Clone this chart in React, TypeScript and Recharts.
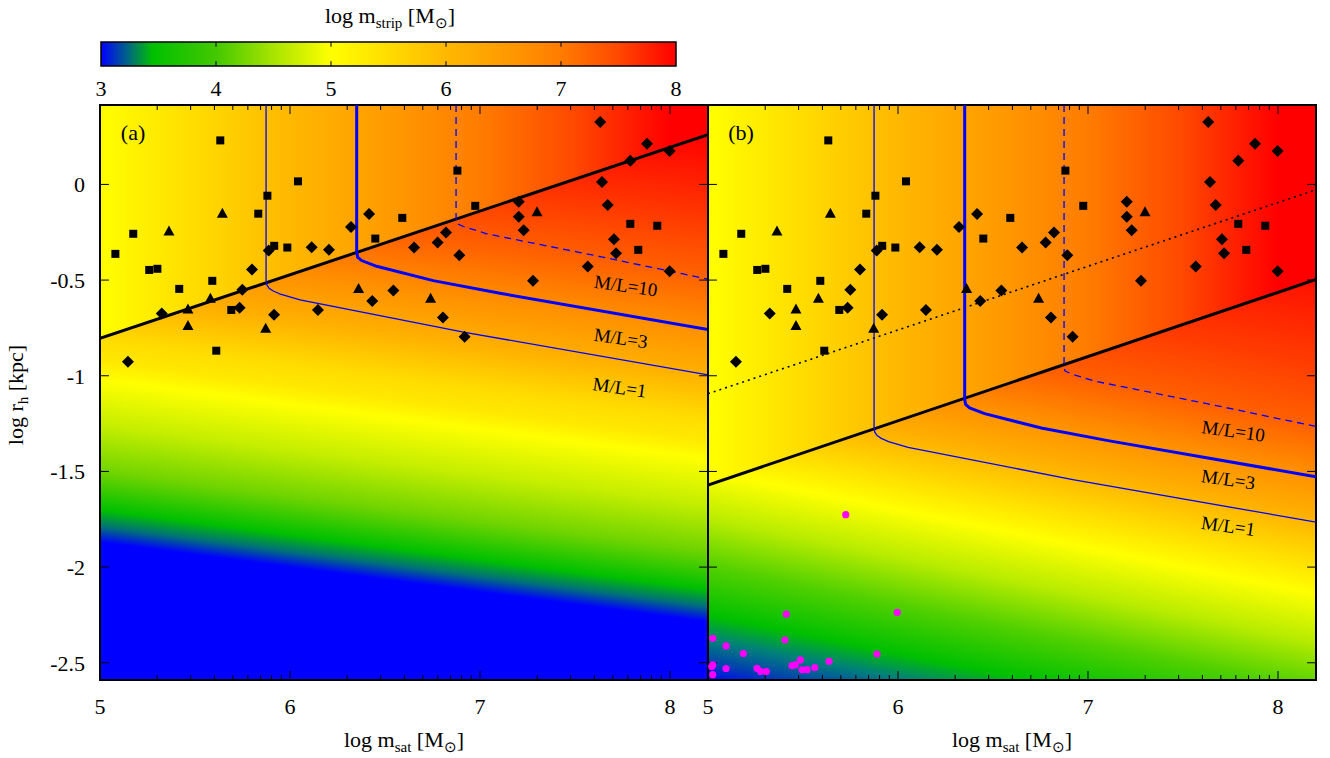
import React from "react";
import {
  ComposedChart,
  XAxis,
  YAxis,
  Line,
  Area,
  Scatter,
  ReferenceArea,
  ReferenceLine,
  ReferenceDot,
} from "recharts";

const FONT = '"Liberation Serif", "Times New Roman", serif';

const X_DOMAIN: [number, number] = [5, 8.2];
const Y_DOMAIN: [number, number] = [-2.59, 0.415];
const X_TICKS = [5, 6, 7, 8];
const Y_TICKS = [0, -0.5, -1, -1.5, -2, -2.5];
const CBAR_TICKS = [3, 4, 5, 6, 7, 8];

// colour scale: log m_strip -> colour
const PALETTE: [number, string][] = [
  [3, "#0000ff"],
  [3.22, "#00608a"],
  [3.45, "#00c000"],
  [4, "#44c800"],
  [4.5, "#a8e400"],
  [5, "#ffff00"],
  [5.5, "#ffdc00"],
  [6, "#ffb800"],
  [6.5, "#ff9c00"],
  [7, "#ff7c00"],
  [7.5, "#ff4800"],
  [8, "#ff0000"],
];

// colour below the tidal line, keyed by where the contour crosses x = 5
const SLOPE_A = -0.13;
const LOWER_A: [number, string][] = [
  [-1.87, "#0000ff"],
  [-1.79, "#00707a"],
  [-1.7, "#00c000"],
  [-1.5, "#70d400"],
  [-1.26, "#c4ee00"],
  [-1.02, "#ffff00"],
  [-0.92, "#ffe800"],
  [-0.81, "#ffdc00"],
  [-0.58, "#ffb000"],
  [-0.34, "#ff9000"],
  [-0.08, "#ff6400"],
  [0.3, "#ff3000"],
  [0.68, "#ff0000"],
];
const SLOPE_B = -0.2;
const LOWER_B: [number, string][] = [
  [-2.6, "#0000ff"],
  [-2.5, "#0040b0"],
  [-2.38, "#00807a"],
  [-2.25, "#00c000"],
  [-2.0, "#50d000"],
  [-1.75, "#b8ec00"],
  [-1.5, "#ffff00"],
  [-1.3, "#ffd800"],
  [-1.1, "#ffb000"],
  [-0.88, "#ff9000"],
  [-0.62, "#ff6000"],
  [-0.3, "#ff3c00"],
  [0.14, "#ff1000"],
];

// observed satellites (same in both panels)
const SQUARES = [
  { x: 5.633, y: 0.23 }, { x: 6.042, y: 0.016 }, { x: 5.881, y: -0.059 },
  { x: 5.833, y: -0.153 }, { x: 5.175, y: -0.258 }, { x: 5.081, y: -0.363 },
  { x: 5.917, y: -0.321 }, { x: 5.986, y: -0.33 }, { x: 5.259, y: -0.447 },
  { x: 5.302, y: -0.441 }, { x: 5.591, y: -0.504 }, { x: 5.417, y: -0.546 },
  { x: 5.691, y: -0.656 }, { x: 5.612, y: -0.869 }, { x: 6.881, y: 0.072 },
  { x: 6.975, y: -0.112 }, { x: 6.591, y: -0.175 }, { x: 6.449, y: -0.283 },
  { x: 7.791, y: -0.206 }, { x: 7.933, y: -0.216 }, { x: 7.833, y: -0.342 },
];
const TRIANGLES = [
  { x: 5.644, y: -0.153 }, { x: 5.363, y: -0.246 }, { x: 5.581, y: -0.598 },
  { x: 5.463, y: -0.654 }, { x: 5.463, y: -0.74 }, { x: 5.872, y: -0.754 },
  { x: 6.361, y: -0.546 }, { x: 6.74, y: -0.598 }, { x: 7.3, y: -0.145 },
];
const DIAMONDS = [
  { x: 5.888, y: -0.346 }, { x: 5.8, y: -0.445 }, { x: 5.749, y: -0.55 },
  { x: 5.325, y: -0.674 }, { x: 5.735, y: -0.644 }, { x: 5.916, y: -0.681 },
  { x: 5.147, y: -0.927 }, { x: 6.416, y: -0.155 }, { x: 6.321, y: -0.223 },
  { x: 6.114, y: -0.328 }, { x: 6.205, y: -0.342 }, { x: 6.653, y: -0.33 },
  { x: 6.777, y: -0.304 }, { x: 6.821, y: -0.251 }, { x: 6.891, y: -0.37 },
  { x: 6.544, y: -0.555 }, { x: 6.433, y: -0.609 }, { x: 6.147, y: -0.657 },
  { x: 6.805, y: -0.696 }, { x: 6.919, y: -0.796 }, { x: 7.633, y: 0.326 },
  { x: 7.879, y: 0.213 }, { x: 7.998, y: 0.175 }, { x: 7.791, y: 0.124 },
  { x: 7.642, y: 0.012 }, { x: 7.672, y: -0.108 }, { x: 7.204, y: -0.091 },
  { x: 7.204, y: -0.169 }, { x: 7.23, y: -0.239 }, { x: 7.705, y: -0.286 },
  { x: 7.716, y: -0.36 }, { x: 7.567, y: -0.429 }, { x: 7.998, y: -0.454 },
  { x: 7.279, y: -0.504 },
];
const MAGENTA = [
  { x: 5.725, y: -1.726 }, { x: 5.996, y: -2.237 }, { x: 5.412, y: -2.246 },
  { x: 5.405, y: -2.381 }, { x: 5.025, y: -2.372 }, { x: 5.095, y: -2.412 },
  { x: 5.186, y: -2.452 }, { x: 5.889, y: -2.454 }, { x: 5.637, y: -2.492 },
  { x: 5.486, y: -2.485 }, { x: 5.442, y: -2.515 }, { x: 5.459, y: -2.511 },
  { x: 5.495, y: -2.537 }, { x: 5.521, y: -2.536 }, { x: 5.562, y: -2.525 },
  { x: 5.258, y: -2.529 }, { x: 5.277, y: -2.545 }, { x: 5.307, y: -2.546 },
  { x: 5.095, y: -2.53 }, { x: 5.025, y: -2.511 }, { x: 5.025, y: -2.562 },
  { x: 5.02, y: -2.52 },
];

// panel (a)
const TIDAL_A = [{ x: 5, y: -0.805 }, { x: 8.2, y: 0.26 }];
const ML1_A = [
  { x: 5.874, y: 0.415 }, { x: 5.874, y: -0.5 }, { x: 5.878, y: -0.525 },
  { x: 5.89, y: -0.543 }, { x: 5.912, y: -0.557 }, { x: 5.95, y: -0.574 },
  { x: 6.053, y: -0.604 }, { x: 6.92, y: -0.773 }, { x: 8.2, y: -0.995 },
];
const ML3_A = [
  { x: 6.351, y: 0.415 }, { x: 6.351, y: -0.354 }, { x: 6.356, y: -0.38 },
  { x: 6.377, y: -0.398 }, { x: 6.456, y: -0.428 }, { x: 6.754, y: -0.503 },
  { x: 7.105, y: -0.569 }, { x: 8.2, y: -0.758 },
];
const ML10_A = [
  { x: 6.874, y: 0.415 }, { x: 6.874, y: -0.19 }, { x: 6.88, y: -0.205 },
  { x: 6.912, y: -0.22 }, { x: 7.035, y: -0.258 }, { x: 7.632, y: -0.377 },
  { x: 8.2, y: -0.495 },
];
const LABELS_A = [
  { text: "M/L=10", x: 7.768, y: -0.529 },
  { text: "M/L=3", x: 7.741, y: -0.803 },
  { text: "M/L=1", x: 7.735, y: -1.061 },
];

// panel (b)
const TIDAL_B = [{ x: 5, y: -1.571 }, { x: 8.2, y: -0.497 }];
const DOTTED_B = [{ x: 5, y: -1.094 }, { x: 8.2, y: -0.028 }];
const ML1_B = [
  { x: 5.874, y: 0.415 }, { x: 5.874, y: -1.27 }, { x: 5.878, y: -1.295 },
  { x: 5.89, y: -1.313 }, { x: 5.912, y: -1.327 }, { x: 5.95, y: -1.344 },
  { x: 6.053, y: -1.374 }, { x: 6.92, y: -1.543 }, { x: 8.2, y: -1.765 },
];
const ML3_B = [
  { x: 6.351, y: 0.415 }, { x: 6.351, y: -1.124 }, { x: 6.356, y: -1.15 },
  { x: 6.377, y: -1.168 }, { x: 6.456, y: -1.198 }, { x: 6.754, y: -1.273 },
  { x: 7.105, y: -1.339 }, { x: 8.2, y: -1.528 },
];
const ML10_B = [
  { x: 6.874, y: 0.415 }, { x: 6.874, y: -0.96 }, { x: 6.88, y: -0.975 },
  { x: 6.912, y: -0.99 }, { x: 7.035, y: -1.028 }, { x: 7.632, y: -1.147 },
  { x: 8.2, y: -1.265 },
];
const LABELS_B = [
  { text: "M/L=10", x: 7.765, y: -1.288 },
  { text: "M/L=3", x: 7.738, y: -1.541 },
  { text: "M/L=1", x: 7.738, y: -1.785 },
];

const CBAR_ENDS = [{ x: 3, y: 0 }, { x: 8, y: 1 }];
const LABEL_ANGLE = 8;

// gradient vector (objectBoundingBox units of the region under the tidal line)
function lowerGrad(slope: number, stops: [number, string][], yTop: number) {
  const W = X_DOMAIN[1] - X_DOMAIN[0];
  const H = yTop - Y_DOMAIN[0];
  const eMin = stops[0][0];
  const eMax = stops[stops.length - 1][0];
  const gu = -slope * W;
  const gv = -H;
  const v1 = (yTop - eMin) / H;
  const k = (eMax - eMin) / (gu * gu + gv * gv);
  return { x1: 0, y1: v1, x2: gu * k, y2: v1 + gv * k, span: eMax - eMin, eMin };
}

function LowerGradient({ id, slope, stops, yTop }: { id: string; slope: number; stops: [number, string][]; yTop: number }) {
  const g = lowerGrad(slope, stops, yTop);
  return (
    <linearGradient id={id} x1={g.x1} y1={g.y1} x2={g.x2} y2={g.y2}>
      {stops.map(([e, c]) => (
        <stop key={e} offset={(e - g.eMin) / g.span} stopColor={c} />
      ))}
    </linearGradient>
  );
}

function Gradients() {
  return (
    <svg width={0} height={0} style={{ position: "absolute" }}>
      <defs>
        <linearGradient id="cbar" x1={0} y1={0} x2={1} y2={0}>
          {PALETTE.map(([v, c]) => (
            <stop key={v} offset={(v - 3) / 5} stopColor={c} />
          ))}
        </linearGradient>
        <linearGradient id="upper" x1={0} y1={0} x2={1} y2={0}>
          {PALETTE.filter(([v]) => v >= 5).map(([v, c]) => (
            <stop key={v} offset={(v - 5) / (X_DOMAIN[1] - 5)} stopColor={c} />
          ))}
        </linearGradient>
        <LowerGradient id="lowerA" slope={SLOPE_A} stops={LOWER_A} yTop={TIDAL_A[1].y} />
        <LowerGradient id="lowerB" slope={SLOPE_B} stops={LOWER_B} yTop={TIDAL_B[1].y} />
      </defs>
    </svg>
  );
}

const Square = (p: any) => (
  <rect x={p.cx - 4} y={p.cy - 4} width={8} height={8} fill="#000" />
);
const Diamond = (p: any) => (
  <path d={`M${p.cx},${p.cy - 6}L${p.cx + 6},${p.cy}L${p.cx},${p.cy + 6}L${p.cx - 6},${p.cy}Z`} fill="#000" />
);
const Triangle = (p: any) => (
  <path d={`M${p.cx},${p.cy - 6}L${p.cx + 5.5},${p.cy + 4}L${p.cx - 5.5},${p.cy + 4}Z`} fill="#000" />
);
const Dot = (p: any) => <circle cx={p.cx} cy={p.cy} r={3.6} fill="#ff00ff" />;

function axisTicks() {
  const [y0, y1] = Y_DOMAIN;
  const [x0, x1] = X_DOMAIN;
  const minor: number[] = [];
  [5, 6, 7].forEach((d) => {
    for (let k = 2; k <= 9; k++) minor.push(d + Math.log10(k));
  });
  const out: React.ReactNode[] = [];
  const seg = (key: string, a: any, b: any) =>
    out.push(<ReferenceLine key={key} segment={[a, b]} stroke="#000" strokeWidth={1} ifOverflow="visible" />);
  X_TICKS.forEach((x) => {
    seg(`xb${x}`, { x, y: y0 }, { x, y: y0 + 0.047 });
    seg(`xt${x}`, { x, y: y1 }, { x, y: y1 - 0.047 });
  });
  minor.forEach((x) => {
    seg(`mb${x}`, { x, y: y0 }, { x, y: y0 + 0.026 });
    seg(`mt${x}`, { x, y: y1 }, { x, y: y1 - 0.026 });
  });
  Y_TICKS.forEach((y) => {
    seg(`yl${y}`, { x: x0, y }, { x: x0 + 0.047, y });
    seg(`yr${y}`, { x: x1, y }, { x: x1 - 0.047, y });
  });
  return out;
}

type Pt = { x: number; y: number };
type PanelProps = {
  tag: string;
  tidal: Pt[];
  lowerId: string;
  dotted?: Pt[];
  ml1: Pt[];
  ml3: Pt[];
  ml10: Pt[];
  labels: { text: string; x: number; y: number }[];
  magenta?: Pt[];
  showY: boolean;
};

function Panel(props: PanelProps) {
  const { tag, tidal, lowerId, dotted, ml1, ml3, ml10, labels, magenta, showY } = props;
  const tickStyle = { fontSize: 22, fill: "#000", fontFamily: FONT };
  return (
    <ComposedChart
      width={showY ? 720 : 630}
      height={758}
      data={tidal}
      margin={showY ? { top: 105, right: 12, bottom: 48, left: 40 } : { top: 105, right: 14, bottom: 48, left: 8 }}
    >
      <XAxis
        dataKey="x"
        type="number"
        domain={X_DOMAIN}
        ticks={X_TICKS}
        interval={0}
        allowDataOverflow
        tickLine={false}
        axisLine={false}
        tick={tickStyle}
        tickMargin={12}
      />
      <YAxis
        dataKey="y"
        type="number"
        domain={Y_DOMAIN}
        ticks={Y_TICKS}
        interval={0}
        allowDataOverflow
        hide={!showY}
        width={60}
        tickLine={false}
        axisLine={false}
        tick={tickStyle}
        tickMargin={9}
      />
      <Area dataKey="y" type="linear" baseValue="dataMin" fill={`url(#${lowerId})`} fillOpacity={1} stroke="none" dot={false} activeDot={false} isAnimationActive={false} />
      <Area dataKey="y" type="linear" baseValue="dataMax" fill="url(#upper)" fillOpacity={1} stroke="none" dot={false} activeDot={false} isAnimationActive={false} />
      {dotted && (
        <Line data={dotted} dataKey="y" type="linear" stroke="#000" strokeWidth={1.6} strokeDasharray="2 4" dot={false} activeDot={false} isAnimationActive={false} />
      )}
      <Line data={tidal} dataKey="y" type="linear" stroke="#000" strokeWidth={3} dot={false} activeDot={false} isAnimationActive={false} />
      <Line data={ml1} dataKey="y" type="linear" stroke="#0000ff" strokeWidth={1.3} dot={false} activeDot={false} isAnimationActive={false} />
      <Line data={ml3} dataKey="y" type="linear" stroke="#0000ff" strokeWidth={3} dot={false} activeDot={false} isAnimationActive={false} />
      <Line data={ml10} dataKey="y" type="linear" stroke="#0000ff" strokeWidth={1.3} strokeDasharray="7 5" dot={false} activeDot={false} isAnimationActive={false} />
      <Scatter data={SQUARES} shape={Square} isAnimationActive={false} />
      <Scatter data={TRIANGLES} shape={Triangle} isAnimationActive={false} />
      <Scatter data={DIAMONDS} shape={Diamond} isAnimationActive={false} />
      {magenta && <Scatter data={magenta} shape={Dot} isAnimationActive={false} />}
      {labels.map((l) => (
        <ReferenceDot
          key={l.text}
          x={l.x}
          y={l.y}
          r={0}
          ifOverflow="visible"
          shape={(p: any) => (
            <text
              x={p.cx}
              y={p.cy}
              textAnchor="middle"
              dominantBaseline="central"
              transform={`rotate(${LABEL_ANGLE} ${p.cx} ${p.cy})`}
              fontFamily={FONT}
              fontSize={19}
              fill="#000"
            >
              {l.text}
            </text>
          )}
        />
      ))}
      <ReferenceDot
        x={5.174}
        y={0.272}
        r={0}
        ifOverflow="visible"
        shape={(p: any) => (
          <text x={p.cx} y={p.cy} textAnchor="middle" dominantBaseline="central" fontFamily={FONT} fontSize={22} fill="#000">
            {tag}
          </text>
        )}
      />
      {axisTicks()}
      <ReferenceArea x1={X_DOMAIN[0]} x2={X_DOMAIN[1]} y1={Y_DOMAIN[0]} y2={Y_DOMAIN[1]} fill="none" stroke="#000" strokeWidth={2} ifOverflow="visible" />
    </ComposedChart>
  );
}

function ColorBar() {
  return (
    <ComposedChart width={700} height={110} data={CBAR_ENDS} margin={{ top: 42, right: 24, bottom: 14, left: 101 }}>
      <XAxis
        dataKey="x"
        type="number"
        domain={[3, 8]}
        ticks={CBAR_TICKS}
        interval={0}
        allowDataOverflow
        tickLine={false}
        axisLine={false}
        tick={{ fontSize: 22, fill: "#000", fontFamily: FONT }}
        tickMargin={8}
      />
      <YAxis dataKey="y" type="number" domain={[0, 1]} allowDataOverflow hide />
      <Line dataKey="y" stroke="none" dot={false} activeDot={false} isAnimationActive={false} />
      <ReferenceArea x1={3} x2={8} y1={0} y2={1} fill="url(#cbar)" fillOpacity={1} stroke="#000" strokeWidth={1.5} ifOverflow="visible" />
      {CBAR_TICKS.slice(1, -1).map((x) => (
        <ReferenceLine key={`b${x}`} segment={[{ x, y: 0 }, { x, y: 0.2 }]} stroke="#000" ifOverflow="visible" />
      ))}
      {CBAR_TICKS.slice(1, -1).map((x) => (
        <ReferenceLine key={`t${x}`} segment={[{ x, y: 1 }, { x, y: 0.8 }]} stroke="#000" ifOverflow="visible" />
      ))}
    </ComposedChart>
  );
}

const textStyle: React.CSSProperties = {
  position: "absolute",
  fontFamily: FONT,
  fontSize: 22,
  color: "#000",
  whiteSpace: "nowrap",
  transform: "translate(-50%, -50%)",
  lineHeight: 1,
};
const subStyle: React.CSSProperties = { fontSize: 15, verticalAlign: "-0.3em" };

export default function App() {
  return (
    <div style={{ position: "absolute", left: 0, top: 0, width: 1330, height: 758, background: "#fff", overflow: "hidden" }}>
      <Gradients />
      <div style={{ position: "absolute", left: 0, top: 0 }}>
        <Panel tag="(a)" tidal={TIDAL_A} lowerId="lowerA" ml1={ML1_A} ml3={ML3_A} ml10={ML10_A} labels={LABELS_A} showY />
      </div>
      <div style={{ position: "absolute", left: 700, top: 0 }}>
        <Panel
          tag="(b)"
          tidal={TIDAL_B}
          lowerId="lowerB"
          dotted={DOTTED_B}
          ml1={ML1_B}
          ml3={ML3_B}
          ml10={ML10_B}
          labels={LABELS_B}
          magenta={MAGENTA}
          showY={false}
        />
      </div>
      <div style={{ position: "absolute", left: 0, top: 0 }}>
        <ColorBar />
      </div>
      <div style={{ ...textStyle, left: 390, top: 18 }}>
        log m<span style={subStyle}>strip</span> [M<span style={subStyle}>⊙</span>]
      </div>
      <div style={{ ...textStyle, left: 404, top: 742 }}>
        log m<span style={subStyle}>sat</span> [M<span style={subStyle}>⊙</span>]
      </div>
      <div style={{ ...textStyle, left: 1012, top: 742 }}>
        log m<span style={subStyle}>sat</span> [M<span style={subStyle}>⊙</span>]
      </div>
      <div style={{ ...textStyle, left: 18, top: 395, transform: "translate(-50%, -50%) rotate(-90deg)" }}>
        log r<span style={subStyle}>h</span> [kpc]
      </div>
    </div>
  );
}
